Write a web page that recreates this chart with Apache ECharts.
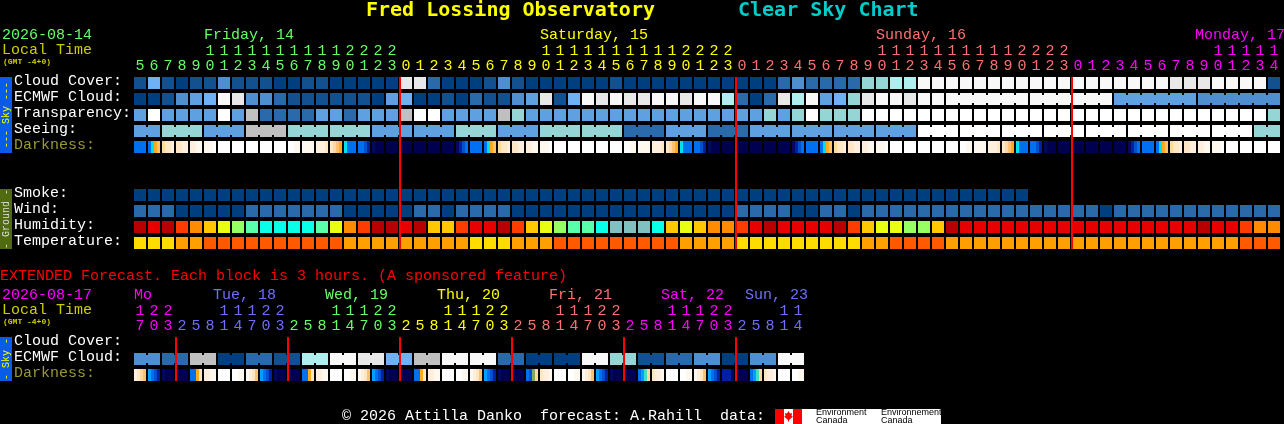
<!DOCTYPE html>
<html><head><meta charset="utf-8">
<style>html,body{margin:0;padding:0;background:#000;overflow:hidden}#c{width:1284px;height:424px}</style>
<script src="https://cdn.jsdelivr.net/npm/echarts@6/dist/echarts.min.js"></script>
</head><body><div id="c"></div>
<script>
// ---------- data: hours ----------
const mainHours = [5,6,7,8,9,10,11,12,13,14,15,16,17,18,19,20,21,22,23,
  0,1,2,3,4,5,6,7,8,9,10,11,12,13,14,15,16,17,18,19,20,21,22,23,
  0,1,2,3,4,5,6,7,8,9,10,11,12,13,14,15,16,17,18,19,20,21,22,23,
  0,1,2,3,4,5,6,7,8,9,10,11,12,13,14];
const extHours = [17,20,23, 2,5,8,11,14,17,20,23, 2,5,8,11,14,17,20,23, 2,5,8,11,14,17,20,23,
  2,5,8,11,14,17,20,23, 2,5,8,11,14,17,20,23, 2,5,8,11,14];
const mainDayLabels = ['Friday, 14','Saturday, 15','Sunday, 16','Monday, 17'];
const extDayLabels = ['Mo','Tue, 18','Wed, 19','Thu, 20','Fri, 21','Sat, 22','Sun, 23'];
const mainRows = ['Cloud Cover:','ECMWF Cloud:','Transparency:','Seeing:','Darkness:','','','Smoke:','Wind:','Humidity:','Temperature:'];
const extRows = ['Cloud Cover:','ECMWF Cloud:','Darkness:'];
const midnightCols = [19,43,67];
const extMidnightCols = [3,11,19,27,35,43];

// ---------- data: sky levels (0 clear/dark .. 11 white) ----------
const cloud = [1,5,1,0,1,1,3,1,1,1,0,0,1,1,0,0,0,0,0,9,9,
  2,0,0,0,1,3,1,0,0,0,0,0,0,1,0,0,0,0,0,0,0,0,0,0,0,2,3,2,2,2,2,6,6,7,7,
  11,11,11,11,11,11,11,11,11,11,11,11,11,11,11,11,11,11,9,9,9,11,11,11,11,1];
const ecmwf = [0,0,1,3,4,5,11,9,3,3,2,1,1,1,1,1,1,0,4,5,0,0,1,0,2,1,1,3,4,9,
  1,5,11,9,11,9,9,11,11,9,11,11,7,2,0,2,9,7,11,4,5,6,9,11,11,9,11,11,
  11,11,11,11,11,11,11,11,11,11,11,11,4,4,4,4,4,4,3,3,3,3,3,3];
const ecmwfBlocks = [1,1,1,1,1,1,1,1,1,1,1,1,1,1,1,1,1,1,1,1,1,1,1,1,1,1,1,1,1,1,
  1,1,1,1,1,1,1,1,1,1,1,1,1,1,1,1,1,1,1,1,1,1,1,1,1,1,1,1,6,6,6,6];
const transparency = [4,10,4,4,4,4,10,4,8,2,2,2,2,4,4,2,4,4,4,8,10,10,4,4,4,4,8,6,4,4,
  4,4,4,4,4,4,4,4,4,4,4,4,4,4,4,6,4,6,10,6,6,6,
  10,10,10,10,10,10,10,10,10,10,10,10,10,10,10,10,10,10,10,10,10,10,10,10,10,10,10,10,10,6];
const seeing = [4,4,6,6,6,4,4,4,8,8,8,6,6,6,6,6,6,4,4,4,4,4,4,6,6,6,4,4,4,6,6,6,6,6,6,2,2,2,4,4,4,2,2,2,
  4,4,4,4,4,4,4,4,4,4,4,4,10,10,10,10,10,10,10,10,10,10,10,10,10,10,10,10,10,10,10,10,10,10,10,10,6,6];
const seeingBlocks = [2,3,3,3,3,3,3,3,3,3,3,3,3,3,3,3,3,3,3,3,3,3,3,3,3,3,3,2];
const smoke = [0,0,0,0,0,0,0,0,0,0,0,0,0,0,0,0,0,0,0,0,0,0,0,0,0,0,0,0,0,0,0,0,
  0,0,0,0,0,0,0,0,0,0,0,0,0,0,0,0,0,0,0,0,0,0,0,0,0,0,0,0,0,0,0,0];
const wind = [2,2,2,0,0,0,0,0,2,2,2,2,2,2,2,0,0,0,0,0,2,2,0,2,2,2,2,
  0,0,0,0,0,0,0,0,0,0,0,0,0,0,0,0,2,2,2,2,0,0,2,2,0,
  2,2,2,2,2,2,2,2,2,2,2,2,2,2,2,2,2,0,2,2,2,2,2,2,2,2,2,2,2,2];
// ---------- data: humidity and temperature classes ----------
const humidity = [0,1,0,2,3,4,5,6,7,8,8,8,8,7,5,3,2,0,0,1,0,4,4,2,1,1,0,2,4,5,6,7,7,8,9,9,9,8,4,5,4,3,3,2,1,0,1,1,1,1,0,2,4,5,5,6,6,4,0,
  1,1,1,1,1,1,1,1,1,1,1,1,1,1,1,1,1,0,1,1,2,3,3];
const temperature = [0,0,0,1,1,2,2,2,2,2,2,2,2,2,2,1,1,1,1,1,1,1,1,1,0,0,0,1,1,1,2,2,2,2,2,2,2,2,2,1,1,1,1,
  0,0,0,0,0,0,0,0,0,1,1,2,2,2,2,1,1,1,1,1,1,1,1,1,1,1,1,1,1,1,1,1,1,1,1,1,2,2,2];
// ---------- data: darkness, four time steps per hour block ----------
const darkness = ['iiii','igfe','dccb','ccbb','bbaa','aaaw','wwww','wwww','wwww','wwww','wwww','wwaa','aaaa','bbbc','cdef','giii','iijk','lmmm','mmmm',
  'mmmm','mmmm','mmmm','mmmm','lkji','iiii','igfe','dccb','ccbb','bbaa','aaaw','wwww','wwww','wwww','wwww','wwww','wwaa','aaaa','bbbc','cdef','giii','iijk','lmmm','mmmm',
  'mmmm','mmmm','mmmm','mmmm','lkji','iiii','igfe','dccb','ccbb','bbaa','aaaw','wwww','wwww','wwww','wwww','wwww','wwaa','aaaa','bbbc','cdef','giii','iijk','lmmm','mmmm',
  'mmmm','mmmm','mmmm','mmmm','lkji','iiii','igfe','dccb','ccbb','bbaa','aaaw','wwww','wwww','wwww','wwww'];
// ---------- data: extended forecast ----------
const extEcmwf = [3,3,2,2,8,8,0,0,2,2,1,1,7,7,11,11,9,9,5,5,8,8,11,11,11,11,2,2,0,0,0,0,11,11,6,6,1,1,2,2,3,3,0,0,3,3,11,11];
const extEcmwfBlocks = [2,2,2,2,2,2,2,2,2,2,2,2,2,2,2,2,2,2,2,2,2,2,2,2];
const extDarkness = ['bcde','hijk','lmmm','mmmm','iifc','bbaa','wwww','wwaa','abce','hijk','lmmm','mmmm','iifc','bbaa','wwww','wwaa','abce','hijk','lmmm','mmmm','iifc','bbaa','wwww','wwaa',
  'abce','hijk','lmmm','mmmm','ijnd','cbba','wwww','wwaa','abce','hijk','lmmm','mmmm','ihod','cbba','wwww','wwaa','abce','hijk','kkkl','mmmm','ihod','cbba','wwww','wwaa'];

// ---------- styles ----------
const skyColors = ['#003f7f','#13508f','#2a6aab','#4f8fd0','#5fa0e0','#70b0f5','#95d5d5','#aeeeee','#c0c0c0','#e8e8e8','#ffffff','#f8f8f8'];
const humidityColors = ['#b80000','#e60000','#ff3c00','#ff8c00','#ffc800','#e8ff14','#96ff64','#5affaa','#0affe8','#80c0c0'];
const temperatureColors = ['#ffdc00','#ffa000','#ff5a00'];
const darkColors = {w:'#ffffff',a:'#fff8ee',b:'#ffefdc',c:'#ffe6c4',d:'#ffd8a0',e:'#ffc070',f:'#ffa820',g:'#00e0f0',h:'#00a0ff',i:'#0070f0',j:'#0050d0',k:'#0020a0',l:'#000860',m:'#000050',n:'#80a860',o:'#40e0c0'};
const dayColors = ['#66ff66','#ffff00','#ff7070','#ff00ff'];
const extDayColors = ['#ff00ff','#6f6fff','#66ff66','#ffff00','#ff7070','#ff00ff','#6f6fff'];
const MONO = '"Liberation Mono", monospace';
const mainDayX = [204,540,876,1195];
const extDayX = [134,213,325,437,549,661,745];

function dayIndexes(hours){let d=0;return hours.map((h,i)=>{if(i&&h<hours[i-1])d++;return d;});}
function blockEnds(sizes){const s=new Set();let t=0;sizes.forEach(n=>{t+=n;s.add(t-1);});return s;}
function cells(values,row,colors,ends){return values.map((v,i)=>[i,row,colors[v],ends?(ends.has(i)?0:1):0]);}
const mainCells=[].concat(
  cells(cloud,0,skyColors),cells(ecmwf,1,skyColors,blockEnds(ecmwfBlocks)),cells(transparency,2,skyColors),
  cells(seeing,3,skyColors,blockEnds(seeingBlocks)),
  cells(smoke,7,skyColors),cells(wind,8,skyColors),cells(humidity,9,humidityColors),cells(temperature,10,temperatureColors));
const extCells=cells(extEcmwf,1,skyColors,blockEnds(extEcmwfBlocks));
function renderCell(p,api){
  const c=api.coord([api.value(0),api.value(1)]),s=api.size([1,1]);
  const x=c[0]-6,y=c[1]-6,fill=api.value(2);
  const kids=[{type:'rect',shape:{x,y,width:12,height:12},style:{fill}}];
  if(api.value(3)) kids.push({type:'rect',shape:{x:x+12,y:y+2,width:s[0]-12,height:8},style:{fill}});
  return {type:'group',children:kids};
}
function renderDark(p,api){
  const c=api.coord([api.value(0),api.value(1)]),code=api.value(2),kids=[];
  for(let k=0;k<4;k++)kids.push({type:'rect',shape:{x:c[0]-6+3*k,y:c[1]-6,width:3,height:12},style:{fill:darkColors[code[k]]}});
  return {type:'group',children:kids};
}
function renderLine(p,api){
  const s=api.size([1,1]),a=api.coord([api.value(0),api.value(1)]),b=api.coord([api.value(0),api.value(2)]);
  return {type:'rect',shape:{x:a[0]-s[0]/2,y:a[1]-6,width:2,height:b[1]-a[1]+12},style:{fill:'#ff0000'}};
}
const custom=(xi,yi,data,render,z,dims)=>({type:'custom',xAxisIndex:xi,yAxisIndex:yi,data,renderItem:render,z,silent:true,clip:false,
  encode:{x:0,y:1},dimensions:dims,animation:false});
function hourAxis(grid,labels,colors,offset){
  return {type:'category',gridIndex:grid,position:'top',offset,data:labels,
    axisLine:{show:false},axisTick:{show:false},splitLine:{show:false},
    axisLabel:{show:true,interval:0,hideOverlap:false,margin:1,fontFamily:MONO,fontSize:15,
      color:(v,i)=>colors[i]}};
}
function rowAxis(grid,rows){
  const rowLabel=color=>({color,fontFamily:MONO,fontSize:15,align:'left',padding:[0,0,3,0]});
  return {type:'category',gridIndex:grid,inverse:true,data:rows,
    axisLine:{show:false},axisTick:{show:false},splitLine:{show:false},
    axisLabel:{show:true,interval:0,align:'left',margin:119,fontFamily:MONO,fontSize:15,
      formatter:v=>v?('{'+(v==='Darkness:'?'dim':'row')+'|'+v+'}'):'',
      rich:{row:rowLabel('#ffffff'),dim:rowLabel('#999933')}}};
}
const mainCol=dayIndexes(mainHours).map(d=>dayColors[d]);
const extCol=dayIndexes(extHours).map(d=>extDayColors[d]);
const tens=h=>h.map(v=>v>=10?String(Math.floor(v/10)):'');
const units=h=>h.map(v=>String(v%10));

const txt=(text,x,y,fill,font,extra)=>Object.assign({type:'text',x,y,silent:true,
  style:Object.assign({text,fill,font:font||('15px '+MONO),textVerticalAlign:'middle',verticalAlign:'middle'})},extra||{});
const side=(y,h,fill,label,color)=>[
  {type:'rect',silent:true,shape:{x:0,y,width:12,height:h},style:{fill}},
  {type:'text',silent:true,x:6,y:y+h/2,rotation:Math.PI/2,style:{text:label,fill:color,font:'10px '+MONO,align:'center',verticalAlign:'middle'}}];
const graphic=[
  txt('Fred Lossing Observatory',366,11,'#ffff00','bold 20px "DejaVu Sans Mono", monospace'),
  txt('Clear Sky Chart',738,11,'#00cccc','bold 20px "DejaVu Sans Mono", monospace'),
  txt('2026-08-14',2,35,'#66ff66'),
  txt('Local Time',2,50,'#cccc00'),
  txt('(GMT -4+0)',3,62,'#cccc00','bold 8px '+MONO),
  ...mainDayLabels.map((t,i)=>txt(t,mainDayX[i],35,dayColors[i])),
  txt('EXTENDED Forecast. Each block is 3 hours. (A sponsored feature)',0,276,'#ff0000'),
  txt('2026-08-17',2,295,'#ff00ff'),
  txt('Local Time',2,310,'#cccc00'),
  txt('(GMT -4+0)',3,322,'#cccc00','bold 8px '+MONO),
  ...extDayLabels.map((t,i)=>txt(t,extDayX[i],295,extDayColors[i])),
  ...side(77,76,'#0a5ce8','--- Sky ---','#ffff00'),
  ...side(189,60,'#4f6a10','- Ground -','#dddddd'),
  ...side(337,44,'#0a5ce8','- Sky -','#ffff00'),
  txt('\u00a9 2026 Attilla Danko  forecast: A.Rahill  data:',342,416,'#ffffff'),
  {type:'rect',silent:true,shape:{x:775,y:409,width:166,height:15},style:{fill:'#ffffff'}},
  {type:'rect',silent:true,shape:{x:775,y:409,width:9,height:15},style:{fill:'#ff0000'}},
  {type:'rect',silent:true,shape:{x:793,y:409,width:9,height:15},style:{fill:'#ff0000'}},
  {type:'polygon',silent:true,shape:{points:[[788.5,411],[790,413.5],[792,413],[791.5,416],[793,416.5],[789,420],[789,421.5],[788,421.5],[788,420],[784,416.5],[785.5,416],[785,413],[787,413.5]]},style:{fill:'#ff0000'}},
  txt('Environment',816,413,'#000','9px "Liberation Sans", sans-serif'),
  txt('Canada',816,421,'#000','9px "Liberation Sans", sans-serif'),
  txt('Environnement',881,413,'#000','9px "Liberation Sans", sans-serif'),
  txt('Canada',881,421,'#000','9px "Liberation Sans", sans-serif')
];
const chart=echarts.init(document.getElementById('c'),null,{renderer:'canvas',width:1284,height:424,devicePixelRatio:1});
chart.setOption({
  animation:false,backgroundColor:'#000000',tooltip:{show:false},
  grid:[{left:133,top:75,width:1148,height:176},{left:133,top:335,width:672,height:48}],
  xAxis:[hourAxis(0,units(mainHours),mainCol,0),hourAxis(0,tens(mainHours),mainCol,15),
         hourAxis(1,units(extHours),extCol,0),hourAxis(1,tens(extHours),extCol,15)],
  yAxis:[rowAxis(0,mainRows),rowAxis(1,extRows)],
  series:[
    custom(0,0,mainCells,renderCell,2,['x','y','fill','link']),
    custom(0,0,darkness.map((d,i)=>[i,4,d]),renderDark,2,['x','y',{name:'code',type:'ordinal'}]),
    custom(0,0,midnightCols.map(c=>[c,0,10]),renderLine,5,['x','y','end']),
    custom(2,1,extCells,renderCell,2,['x','y','fill','link']),
    custom(2,1,extDarkness.map((d,i)=>[i,2,d]),renderDark,2,['x','y',{name:'code',type:'ordinal'}]),
    custom(2,1,extMidnightCols.map(c=>[c,0,2]),renderLine,5,['x','y','end'])
  ],
  graphic
});
</script></body></html>
